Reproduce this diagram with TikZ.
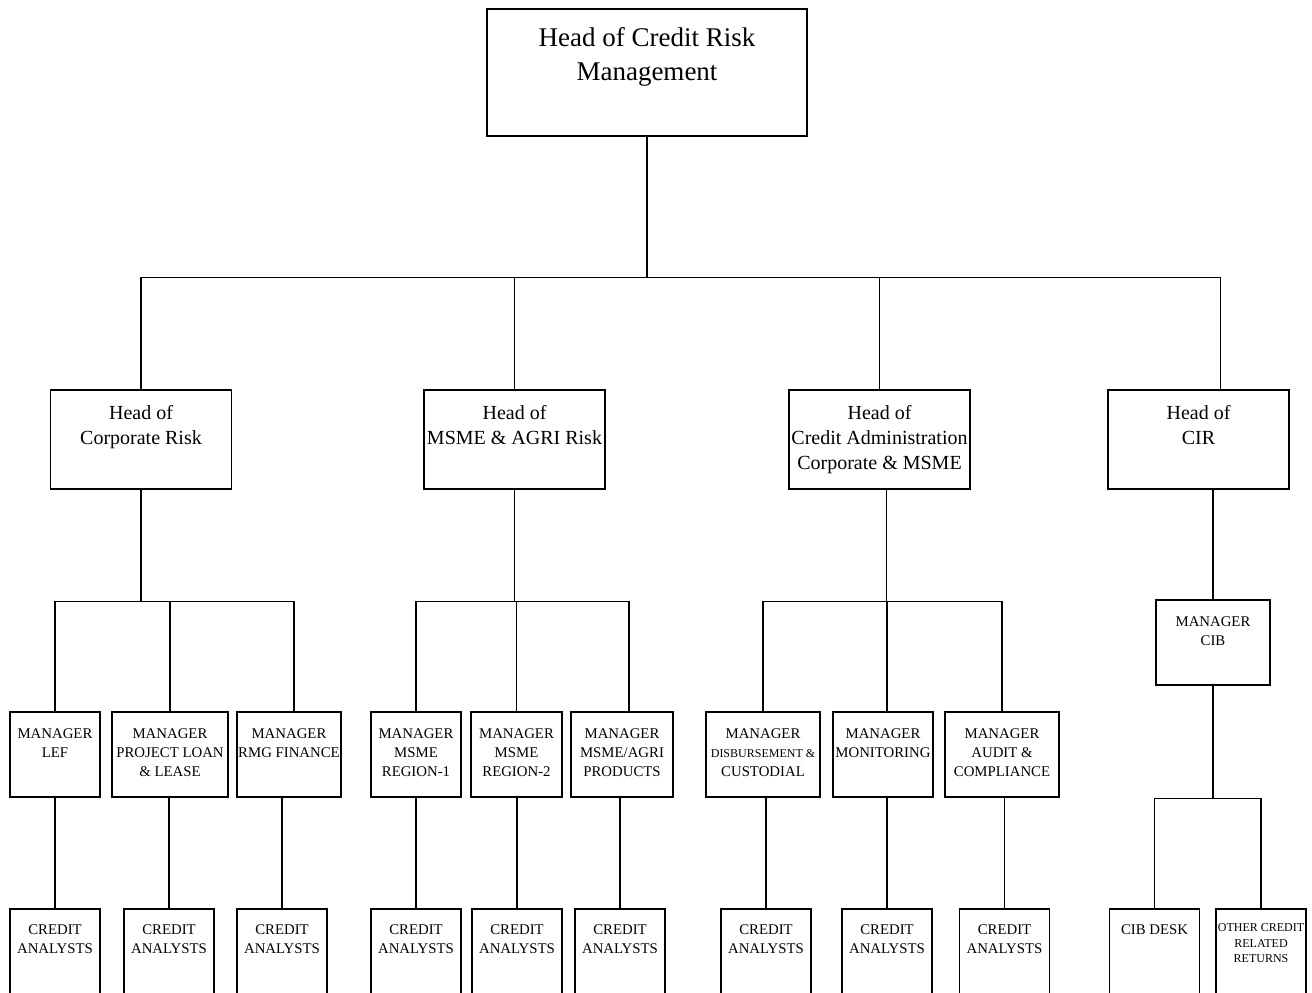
\documentclass[tikz,border=0pt]{standalone}
\usepackage{fontspec}
\setmainfont{Liberation Serif}
\usepackage{xcolor}
\usepackage{tikz}
\tikzstyle{chief} = [rectangle, draw=black, line width=0.8pt, anchor=north, inner sep=0pt, align=flush center, text height=19pt, text depth=44.5pt, font=\fontsize{13.5}{17}\selectfont]
\tikzstyle{head} = [rectangle, draw=black, line width=0.8pt, anchor=north, inner sep=0pt, align=flush center, text width=90.5pt, text height=15pt, text depth=34.5pt, font=\fontsize{10}{12.5}\selectfont]
\tikzstyle{manager} = [rectangle, draw=black, line width=0.8pt, anchor=north, inner sep=0pt, align=flush center, text height=13.5pt, text depth=29pt, font=\fontsize{7.4}{9.3}\selectfont]
\tikzstyle{analyst} = [rectangle, draw=black, line width=0.8pt, anchor=north, inner sep=0pt, align=flush center, text width=45pt, text height=13pt, text depth=32pt, font=\fontsize{7.4}{9.3}\selectfont]
\tikzstyle{link} = [line width=0.8pt]

\begin{document}
\begin{tikzpicture}[x=0.5pt, y=-0.5pt]
  \clip (0,0) rectangle (1312,992);

  \node (crm) [chief, text width=160pt] at (647,8) {Head of Credit Risk\\Management};

  % heads
  \node (corp) [head] at (141,389) {Head of\\Corporate Risk};
  \node (msme) [head] at (514.5,389) {Head of\\MSME \& AGRI Risk};
  \node (cadm) [head] at (879.5,389) {Head of\\Credit Administration\\Corporate \& MSME};
  \node (cir) [head] at (1198.5,389) {Head of\\CIR};

  % managers
  \node (lef) [manager, text width=45pt] at (55,711) {MANAGER\\LEF};
  \node (plo) [manager, text width=58pt] at (170,711) {MANAGER\\PROJECT LOAN\\\& LEASE};
  \node (rmg) [manager, text width=52pt] at (289,711) {MANAGER\\RMG FINANCE};
  \node (reg1) [manager, text width=45pt] at (416,711) {MANAGER\\MSME\\REGION-1};
  \node (reg2) [manager, text width=45.5pt] at (516.5,711) {MANAGER\\MSME\\REGION-2};
  \node (prod) [manager, text width=51pt] at (622,711) {MANAGER\\MSME/AGRI\\PRODUCTS};
  \node (disb) [manager, text width=57pt] at (763,711) {MANAGER\\{\fontsize{6}{9.3}\selectfont DISBURSEMENT \&}\\CUSTODIAL};
  \node (mon) [manager, text width=50pt] at (883,711) {MANAGER\\MONITORING};
  \node (aud) [manager, text width=57pt] at (1002,711) {MANAGER\\AUDIT \&\\COMPLIANCE};
  \node (cib) [manager, text width=57pt] at (1213,599) {MANAGER\\CIB};

  % analysts
  \node (ca1) [analyst] at (55,908) {CREDIT\\ANALYSTS};
  \node (ca2) [analyst] at (169,908) {CREDIT\\ANALYSTS};
  \node (ca3) [analyst] at (282,908) {CREDIT\\ANALYSTS};
  \node (ca4) [analyst] at (416,908) {CREDIT\\ANALYSTS};
  \node (ca5) [analyst] at (517,908) {CREDIT\\ANALYSTS};
  \node (ca6) [analyst] at (620,908) {CREDIT\\ANALYSTS};
  \node (ca7) [analyst] at (766,908) {CREDIT\\ANALYSTS};
  \node (ca8) [analyst] at (887,908) {CREDIT\\ANALYSTS};
  \node (ca9) [analyst] at (1004.5,908) {CREDIT\\ANALYSTS};
  \node (desk) [analyst] at (1154.5,908) {CIB DESK};
  \node (other) [analyst, text height=11.5pt, text depth=33.5pt, font=\fontsize{6}{7.7}\selectfont] at (1261,908) {OTHER CREDIT\\RELATED\\RETURNS};

  % links
  \draw [link] (crm.south) -- ++(0,141) -| (corp.north);
  \draw [link] (crm.south) -- ++(0,141) -| (msme.north);
  \draw [link] (crm.south) -- ++(0,141) -| (cadm.north);
  \draw [link] (crm.south) -- ++(0,141) -| ([xshift=11pt]cir.north);

  \draw [link] (corp.south) -- ++(0,112) -| (lef.north);
  \draw [link] (corp.south) -- ++(0,112) -| (plo.north);
  \draw [link] (corp.south) -- ++(0,112) -| ([xshift=2.5pt]rmg.north);
  \draw [link] (msme.south) -- ++(0,112) -| (reg1.north);
  \draw [link] (msme.south) -- ++(0,112) -| (reg2.north);
  \draw [link] (msme.south) -- ++(0,112) -| ([xshift=3.5pt]prod.north);
  \draw [link] ([xshift=3.5pt]cadm.south) -- ++(0,112) -| (disb.north);
  \draw [link] ([xshift=3.5pt]cadm.south) -- ++(0,112) -| ([xshift=2pt]mon.north);
  \draw [link] ([xshift=3.5pt]cadm.south) -- ++(0,112) -| (aud.north);
  \draw [link] (cib.north) -- (cib.north |- cir.south);

  \draw [link] (ca1.north) -- (ca1.north |- lef.south);
  \draw [link] (ca2.north) -- (ca2.north |- plo.south);
  \draw [link] (ca3.north) -- (ca3.north |- rmg.south);
  \draw [link] (ca4.north) -- (ca4.north |- reg1.south);
  \draw [link] (ca5.north) -- (ca5.north |- reg2.south);
  \draw [link] (ca6.north) -- (ca6.north |- prod.south);
  \draw [link] (ca7.north) -- (ca7.north |- disb.south);
  \draw [link] (ca8.north) -- (ca8.north |- mon.south);
  \draw [link] (ca9.north) -- (ca9.north |- aud.south);
  \draw [link] (cib.south) -- ++(0,113) -| (desk.north);
  \draw [link] (cib.south) -- ++(0,113) -| (other.north);

\end{tikzpicture}
\end{document}
